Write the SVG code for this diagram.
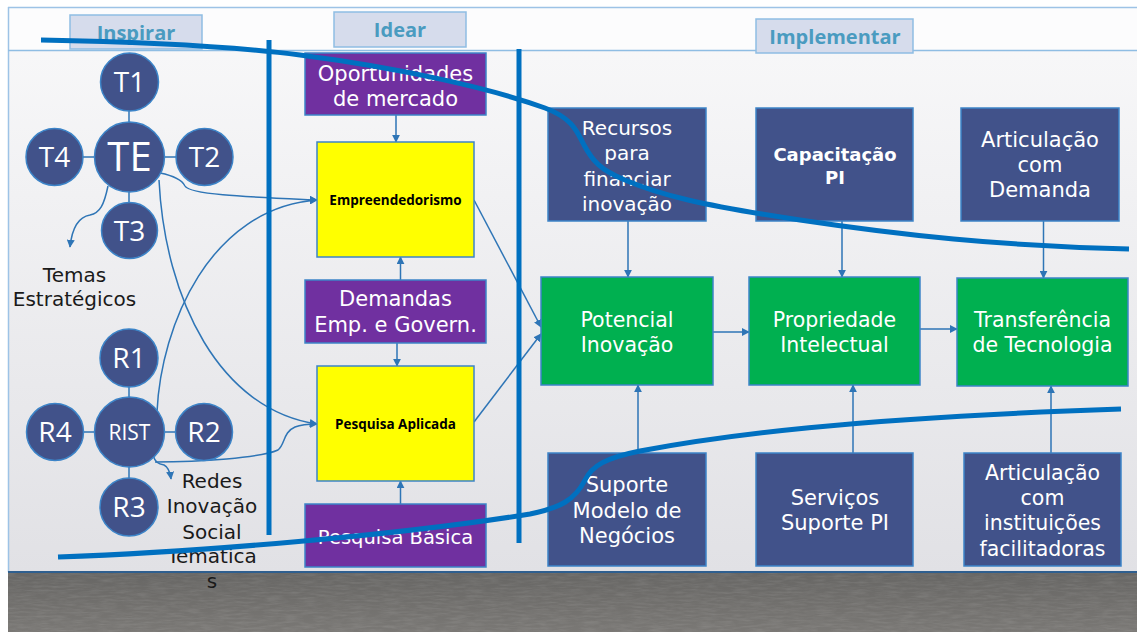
<svg xmlns="http://www.w3.org/2000/svg" width="1137" height="632" viewBox="0 0 1137 632">
<defs>
<linearGradient id="bg" x1="0" y1="0" x2="0" y2="1"><stop offset="0" stop-color="#f9f9fa"/><stop offset="1" stop-color="#e1e1e5"/></linearGradient>
<linearGradient id="floor" x1="0" y1="0" x2="0" y2="1"><stop offset="0" stop-color="#676664"/><stop offset="1" stop-color="#7a7875"/></linearGradient>
<filter id="grain" x="0" y="0" width="100%" height="100%">
<feTurbulence type="fractalNoise" baseFrequency="0.06 0.5" numOctaves="3" seed="4" result="n"/>
<feColorMatrix in="n" type="matrix" values="0 0 0 0 1  0 0 0 0 1  0 0 0 0 1  0 0 0 0.5 -0.18"/>
</filter>
<marker id="arr" viewBox="0 0 10 10" refX="9" refY="5" markerWidth="8" markerHeight="8" markerUnits="userSpaceOnUse" orient="auto"><path d="M0,0 L10,5 L0,10 z" fill="#2e75b6"/></marker>
<style>
.circ{fill:#41528a;stroke:#3c84c8;stroke-width:1.5}
.dark{fill:#41528a;stroke:#3c84c8;stroke-width:1.5}
.purple{fill:#7030a0;stroke:#3c84c8;stroke-width:1.5}
.yellow{fill:#ffff00;stroke:#3c84c8;stroke-width:1.5}
.green{fill:#00b050;stroke:#3c84c8;stroke-width:1.5}
.hdr{fill:#d6dcec;stroke:#8fbde3;stroke-width:1.5}
.hdrt{font-family:"Open Sans","Liberation Sans",sans-serif;font-weight:700;font-size:20px;fill:#4a9bc0;text-anchor:middle}
.ct{font-family:"Open Sans","Liberation Sans",sans-serif;font-size:28px;fill:#ffffff;text-anchor:middle}
.wt{font-family:"DejaVu Sans","Liberation Sans",sans-serif;font-size:21px;fill:#ffffff;text-anchor:middle}
.gt{font-family:"DejaVu Sans","Liberation Sans",sans-serif;font-size:20.5px;fill:#ffffff;text-anchor:middle}
.bt{font-family:"Open Sans","Liberation Sans",sans-serif;font-weight:700;font-size:13.5px;fill:#000000;text-anchor:middle}
.lbl{font-family:"DejaVu Sans","Liberation Sans",sans-serif;font-size:20px;fill:#1a1a1a;text-anchor:middle}
.conn{fill:none;stroke:#2e75b6;stroke-width:1.5}
.thick{fill:none;stroke:#0070c0;stroke-width:5}
</style>
</defs>
<rect x="0" y="0" width="1137" height="632" fill="#ffffff"/>
<rect x="8" y="7" width="1129" height="565" fill="url(#bg)"/>
<rect x="8" y="7" width="1129" height="43" fill="#fcfcfd"/>
<line x1="8" y1="7.5" x2="1137" y2="7.5" stroke="#9dc3e6" stroke-width="1.5"/>
<line x1="8.5" y1="7" x2="8.5" y2="572" stroke="#9dc3e6" stroke-width="1.5"/>
<line x1="8" y1="50.5" x2="1137" y2="50.5" stroke="#8fbde3" stroke-width="1.5"/>
<rect x="8" y="572" width="1129" height="60" fill="url(#floor)"/>
<rect x="8" y="572" width="1129" height="60" filter="url(#grain)" opacity="0.35"/>
<line x1="8" y1="572" x2="1137" y2="572" stroke="#2f5f8f" stroke-width="2"/>

<g id="hdr-inspirar"><rect class="hdr" x="70" y="15" width="132" height="34"/><text class="hdrt" x="136" y="40">Inspirar</text></g>
<g id="hdr-idear"><rect class="hdr" x="334" y="12" width="132" height="35"/><text class="hdrt" x="400" y="37">Idear</text></g>
<g id="hdr-implementar"><rect class="hdr" x="756" y="19" width="157" height="34"/><text class="hdrt" x="835" y="44">Implementar</text></g>

<g id="connectors">
<line class="conn" x1="129" y1="111" x2="129" y2="122"/>
<line class="conn" x1="83" y1="157" x2="94" y2="157"/>
<line class="conn" x1="165" y1="157" x2="176" y2="157"/>
<line class="conn" x1="129" y1="192" x2="129" y2="202"/>
<line class="conn" x1="129" y1="387" x2="129" y2="397"/>
<line class="conn" x1="83" y1="432" x2="94" y2="432"/>
<line class="conn" x1="165" y1="432" x2="176" y2="432"/>
<line class="conn" x1="129" y1="467" x2="129" y2="478"/>
<path class="conn" d="M108,186 C104,205 100,213 90,215 C78,217 72,228 70,247" marker-end="url(#arr)"/>
<path class="conn" d="M153,455 C155,462 158,464 164,465 C168,467 170,471 171,479" marker-end="url(#arr)"/>
<path class="conn" d="M160,173 C175,176 182,180 185,186 C190,195 250,197 317,200" marker-end="url(#arr)"/>
<path class="conn" d="M157,412 C161,325 210,208 317,200" marker-end="url(#arr)"/>
<path class="conn" d="M159,180 C165,300 220,410 317,424" marker-end="url(#arr)"/>
<path class="conn" d="M155,462 C200,462 260,458 278,450 C285,445 283,432 295,427 C300,425 310,424 317,424" marker-end="url(#arr)"/>
<line class="conn" x1="396" y1="115" x2="396" y2="142" marker-end="url(#arr)"/>
<line class="conn" x1="400.5" y1="280" x2="400.5" y2="257" marker-end="url(#arr)"/>
<line class="conn" x1="397" y1="343" x2="397" y2="366" marker-end="url(#arr)"/>
<line class="conn" x1="400.5" y1="504" x2="400.5" y2="481" marker-end="url(#arr)"/>
<line class="conn" x1="474" y1="200" x2="541" y2="327" marker-end="url(#arr)"/>
<line class="conn" x1="474" y1="422" x2="541" y2="334" marker-end="url(#arr)"/>
<line class="conn" x1="628" y1="221" x2="628" y2="277" marker-end="url(#arr)"/>
<line class="conn" x1="842" y1="221" x2="842" y2="277" marker-end="url(#arr)"/>
<line class="conn" x1="1043.5" y1="221" x2="1043.5" y2="278" marker-end="url(#arr)"/>
<line class="conn" x1="638" y1="453" x2="638" y2="385" marker-end="url(#arr)"/>
<line class="conn" x1="853" y1="453" x2="853" y2="385" marker-end="url(#arr)"/>
<line class="conn" x1="1051" y1="453" x2="1051" y2="386" marker-end="url(#arr)"/>
<line class="conn" x1="713" y1="332" x2="749" y2="332" marker-end="url(#arr)"/>
<line class="conn" x1="920" y1="329" x2="957" y2="329" marker-end="url(#arr)"/>
</g>

<g id="T1"><circle class="circ" cx="129.5" cy="82" r="29"/><text class="ct" x="129.5" y="92">T1</text></g>
<g id="TE"><circle class="circ" cx="129.5" cy="157" r="35"/><text class="ct" x="129.5" y="171" style="font-size:40px">TE</text></g>
<g id="T4"><circle class="circ" cx="54.5" cy="157" r="28.5"/><text class="ct" x="54.5" y="167">T4</text></g>
<g id="T2"><circle class="circ" cx="204.5" cy="157" r="28.5"/><text class="ct" x="204.5" y="167">T2</text></g>
<g id="T3"><circle class="circ" cx="129.5" cy="230.5" r="28"/><text class="ct" x="129.5" y="240.5">T3</text></g>
<g id="R1"><circle class="circ" cx="129" cy="358" r="29"/><text class="ct" x="129" y="368">R1</text></g>
<g id="RIST"><circle class="circ" cx="129.5" cy="432" r="35"/><text class="ct" x="129.5" y="439.5" style="font-size:21px">RIST</text></g>
<g id="R4"><circle class="circ" cx="55" cy="432" r="28.5"/><text class="ct" x="55" y="442">R4</text></g>
<g id="R2"><circle class="circ" cx="204" cy="432" r="28.5"/><text class="ct" x="204" y="442">R2</text></g>
<g id="R3"><circle class="circ" cx="129" cy="507" r="29"/><text class="ct" x="129" y="517">R3</text></g>

<g id="lbl-temas"><text class="lbl" x="74.5" y="282">Temas<tspan x="74.5" dy="24">Estratégicos</tspan></text></g>
<g id="lbl-redes"><text class="lbl" x="212" y="488">Redes<tspan x="212" dy="25">Inovação</tspan><tspan x="212" dy="26">Social</tspan><tspan x="212" dy="24">Temática</tspan><tspan x="212" dy="25">s</tspan></text></g>

<g id="oportunidades"><rect class="purple" x="305" y="53" width="181" height="62"/><text class="wt" x="395.5" y="80.5">Oportunidades<tspan x="395.5" dy="25">de mercado</tspan></text></g>
<g id="empreendedorismo"><rect class="yellow" x="317" y="142" width="157" height="115"/><text class="bt" x="395.5" y="204.5">Empreendedorismo</text></g>
<g id="demandas"><rect class="purple" x="305" y="280" width="181" height="63"/><text class="wt" x="395.5" y="306">Demandas<tspan x="395.5" dy="26">Emp. e Govern.</tspan></text></g>
<g id="pesquisa-aplicada"><rect class="yellow" x="317" y="366" width="157" height="115"/><text class="bt" x="395.5" y="428.5">Pesquisa Aplicada</text></g>
<g id="pesquisa-basica"><rect class="purple" x="305" y="504" width="181" height="63"/><text class="wt" x="395.5" y="544" style="font-size:19.5px">Pesquisa Básica</text></g>

<g id="recursos"><rect class="dark" x="548" y="108" width="158" height="113"/><text class="wt" x="627" y="134.5" style="font-size:20px">Recursos<tspan x="627" dy="25">para</tspan><tspan x="627" dy="26">financiar</tspan><tspan x="627" dy="25">inovação</tspan></text></g>
<g id="capacitacao"><rect class="dark" x="756" y="108" width="157" height="113"/><text class="wt" x="835" y="161" style="font-weight:700;font-size:18px">Capacitação<tspan x="835" dy="23">PI</tspan></text></g>
<g id="articulacao-demanda"><rect class="dark" x="961" y="108" width="158" height="113"/><text class="wt" x="1040" y="147">Articulação<tspan x="1040" dy="25">com</tspan><tspan x="1040" dy="25">Demanda</tspan></text></g>

<g id="potencial"><rect class="green" x="541" y="277" width="172" height="108"/><text class="gt" x="627" y="327">Potencial<tspan x="627" dy="25">Inovação</tspan></text></g>
<g id="propriedade"><rect class="green" x="749" y="277" width="171" height="108"/><text class="gt" x="834.5" y="327">Propriedade<tspan x="834.5" dy="25">Intelectual</tspan></text></g>
<g id="transferencia"><rect class="green" x="957" y="278" width="171" height="108"/><text class="gt" x="1042.5" y="327">Transferência<tspan x="1042.5" dy="25">de Tecnologia</tspan></text></g>

<g id="suporte"><rect class="dark" x="548" y="453" width="158" height="113"/><text class="wt" x="627" y="492">Suporte<tspan x="627" dy="26">Modelo de</tspan><tspan x="627" dy="25">Negócios</tspan></text></g>
<g id="servicos"><rect class="dark" x="756" y="453" width="157" height="113"/><text class="wt" x="835" y="505">Serviços<tspan x="835" dy="25">Suporte PI</tspan></text></g>
<g id="articulacao-facilitadoras"><rect class="dark" x="964" y="453" width="157" height="113"/><text class="wt" x="1042.5" y="480" style="font-size:20.5px">Articulação<tspan x="1042.5" dy="25">com</tspan><tspan x="1042.5" dy="25">instituições</tspan><tspan x="1042.5" dy="26">facilitadoras</tspan></text></g>

<g id="dividers">
<line class="thick" x1="269" y1="40" x2="269" y2="535"/>
<line class="thick" x1="519" y1="49" x2="519" y2="543"/>
<path class="thick" d="M41,40 C150,42 230,46 300,55 C400,68 490,88 545,108 C575,119 578,135 584,145 C592,160 600,170 625,180 C660,195 700,205 800,220 C900,235 1000,246 1129,249"/>
<path class="thick" d="M58,557 C200,552 400,535 530,514 C560,508 575,500 585,480 C592,466 605,458 640,451 C720,436 850,418 1121,409"/>
</g>
</svg>
